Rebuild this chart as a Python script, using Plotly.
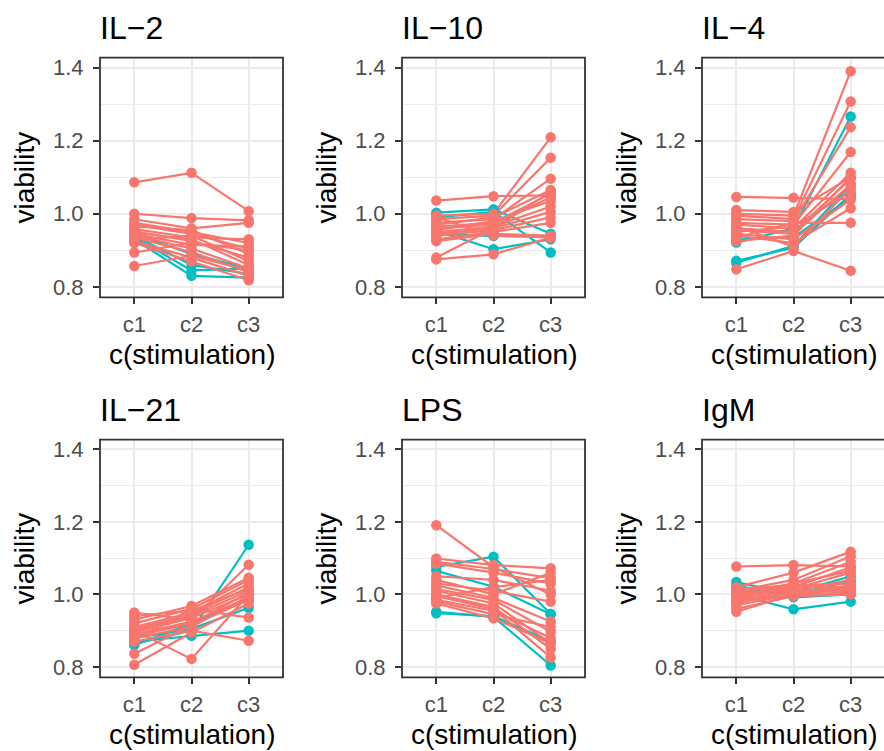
import plotly.graph_objects as go

# ---------------- data ----------------
stimulations = ["c1", "c2", "c3"]
panel_titles = ["IL\u22122", "IL\u221210", "IL\u22124", "IL\u221221", "LPS", "IgM"]
y_ticks = [0.8, 1.0, 1.2, 1.4]

il2_red = [
    [1.086, 1.112, 1.007], [1.000, 0.988, 0.982], [0.985, 0.960, 0.975],
    [0.975, 0.950, 0.920], [0.970, 0.945, 0.905], [0.965, 0.955, 0.890],
    [0.958, 0.935, 0.930], [0.952, 0.925, 0.880], [0.948, 0.930, 0.860],
    [0.945, 0.915, 0.910], [0.940, 0.905, 0.850], [0.935, 0.895, 0.840],
    [0.930, 0.940, 0.870], [0.925, 0.880, 0.830], [0.920, 0.870, 0.818],
    [0.894, 0.920, 0.900], [0.857, 0.885, 0.845],
]
il2_teal = [
    [0.945, 0.890, 0.850], [0.935, 0.845, 0.850],
    [0.930, 0.830, 0.825], [0.940, 0.860, 0.835],
]

il10_red = [
    [1.036, 1.048, 1.050], [0.995, 1.000, 1.209], [0.985, 0.995, 1.153],
    [0.975, 0.985, 1.096], [0.970, 0.990, 1.065], [0.965, 0.975, 1.055],
    [0.960, 0.970, 1.045], [0.955, 0.980, 1.035], [0.950, 0.965, 1.020],
    [0.945, 0.960, 1.005], [0.940, 0.955, 0.990], [0.930, 0.950, 0.975],
    [0.925, 0.945, 0.940], [0.880, 0.960, 1.060], [0.875, 0.889, 0.935],
    [0.990, 0.940, 0.935],
]
il10_teal = [
    [1.003, 1.012, 0.945], [0.953, 0.903, 0.930],
    [0.945, 0.939, 0.938], [0.990, 1.005, 0.894],
]

il4_red = [
    [1.046, 1.044, 1.040], [1.010, 1.005, 1.100], [1.000, 0.995, 1.390],
    [0.995, 0.985, 1.307], [0.985, 0.980, 1.237], [0.975, 0.970, 1.169],
    [0.970, 0.960, 1.112], [0.960, 0.950, 1.095], [0.955, 0.945, 1.080],
    [0.950, 0.965, 1.060], [0.945, 0.930, 1.039], [0.940, 0.920, 1.015],
    [0.935, 0.975, 0.975], [0.925, 0.940, 1.100], [0.848, 0.898, 0.844],
    [0.965, 0.910, 1.070],
]
il4_teal = [
    [0.921, 0.960, 1.266], [0.871, 0.907, 1.053],
    [0.866, 0.912, 1.080], [0.930, 0.935, 1.045],
]

il21_red = [
    [0.950, 0.930, 1.082], [0.930, 0.968, 1.046], [0.920, 0.960, 1.040],
    [0.910, 0.950, 1.030], [0.905, 0.945, 1.020], [0.900, 0.940, 1.010],
    [0.895, 0.935, 1.000], [0.890, 0.925, 0.990], [0.885, 0.920, 1.005],
    [0.880, 0.910, 0.995], [0.875, 0.960, 0.936], [0.870, 0.900, 0.872],
    [0.836, 0.915, 0.985], [0.806, 0.895, 0.975], [0.900, 0.822, 1.000],
    [0.940, 0.955, 1.015],
]
il21_teal = [
    [0.863, 0.900, 1.137], [0.870, 0.886, 0.900],
    [0.880, 0.905, 0.963], [0.860, 0.920, 0.985],
]

lps_red = [
    [1.191, 1.075, 1.000], [1.099, 1.081, 1.072], [1.090, 1.070, 1.045],
    [1.085, 1.060, 1.030], [1.040, 1.000, 1.060], [1.030, 1.010, 0.980],
    [1.025, 0.990, 0.925], [1.015, 0.985, 0.897], [1.010, 0.975, 0.865],
    [1.000, 0.965, 0.850], [0.995, 0.960, 0.826], [0.985, 0.955, 0.880],
    [0.980, 0.945, 0.910], [0.975, 0.934, 0.865], [1.050, 1.040, 1.010],
    [0.990, 1.020, 1.040],
]
lps_teal = [
    [1.076, 1.104, 0.946], [0.948, 0.940, 0.870],
    [0.952, 0.938, 0.804], [1.065, 1.021, 0.945],
]

igm_red = [
    [1.077, 1.081, 1.077], [1.020, 1.060, 1.118], [1.010, 1.040, 1.105],
    [1.005, 1.030, 1.090], [1.000, 1.020, 1.075], [0.995, 1.015, 1.060],
    [0.990, 1.010, 1.040], [0.985, 1.005, 1.025], [0.980, 1.000, 1.020],
    [0.975, 1.010, 1.010], [0.970, 1.000, 1.005], [0.960, 0.995, 1.000],
    [0.952, 1.000, 1.015], [1.015, 1.025, 1.030], [1.000, 1.020, 1.020],
    [0.990, 1.030, 1.065],
]
igm_teal = [
    [1.034, 1.000, 1.037], [1.000, 0.959, 0.980],
    [1.025, 0.992, 1.000], [1.010, 1.005, 1.050],
]

panels_red = [il2_red, il10_red, il4_red, il21_red, lps_red, igm_red]
panels_teal = [il2_teal, il10_teal, il4_teal, il21_teal, lps_teal, igm_teal]

# ---------------- styling / layout ----------------
RED = "#F8766D"
TEAL = "#00BFC4"
FONT = "Liberation Sans, Arial, sans-serif"
W, H = 884, 751

col_left = [100, 402, 702]
panel_w = 183
row_top = [56, 440]
row_bot = [297, 679]
unit_px = panel_w / 3.2
y_range = [0.771, 1.427]


def fx(px):
    return px / W


def fy(py):
    return 1 - py / H


def flat(rows):
    xs, ys = [], []
    for r in rows:
        xs += stimulations + [None]
        ys += list(r) + [None]
    return xs, ys


fig = go.Figure()
shapes = []
annotations = []

for i in range(6):
    row, col = divmod(i, 3)
    n = i + 1
    xa = "x" if n == 1 else f"x{n}"
    ya = "y" if n == 1 else f"y{n}"

    tx, ty = flat(panels_teal[i])
    rx, ry = flat(panels_red[i])
    for xs, ys, c in [(tx, ty, TEAL), (rx, ry, RED)]:
        fig.add_trace(go.Scatter(x=xs, y=ys, mode="lines", line=dict(color=c, width=2.2),
                                 xaxis=xa, yaxis=ya, showlegend=False, hoverinfo="skip"))
    for xs, ys, c in [(tx, ty, TEAL), (rx, ry, RED)]:
        fig.add_trace(go.Scatter(x=xs, y=ys, mode="markers", marker=dict(color=c, size=10.5),
                                 xaxis=xa, yaxis=ya, showlegend=False, hoverinfo="skip"))

    left = col_left[col]
    right = min(left + panel_w, W)
    xr_max = -0.6 + (right - left) / unit_px
    top, bot = row_top[row], row_bot[row]

    axis_common = dict(
        showline=False, zeroline=False, ticks="outside", ticklen=6, tickwidth=1.8,
        tickcolor="#333333", gridcolor="#EBEBEB", gridwidth=2,
        tickfont=dict(family=FONT, size=22, color="#4D4D4D"),
    )
    fig.layout[f"xaxis{'' if n == 1 else n}"] = dict(
        axis_common, domain=[fx(left), fx(right)], anchor=ya, type="category",
        categoryorder="array", categoryarray=stimulations, range=[-0.6, xr_max],
        showgrid=True, ticklabelstandoff=1,
    )
    fig.layout[f"yaxis{'' if n == 1 else n}"] = dict(
        axis_common, domain=[fy(bot), fy(top)], anchor=xa, range=y_range,
        tickmode="array", tickvals=y_ticks, ticktext=[f"{v:.1f}" for v in y_ticks],
        showgrid=True, ticklabelstandoff=5,
        minor=dict(tickmode="array", tickvals=[0.9, 1.1, 1.3], showgrid=True,
                   gridcolor="#EBEBEB", gridwidth=1, ticks=""),
    )

    shapes.append(dict(type="rect", xref="paper", yref="paper",
                       x0=fx(left), x1=fx(left + panel_w), y0=fy(bot), y1=fy(top),
                       line=dict(color="#333333", width=1.8), layer="above"))

    annotations.append(dict(text=panel_titles[i], xref="paper", yref="paper",
                            x=fx(left - 2), y=fy(top - 30), xanchor="left", yanchor="middle",
                            showarrow=False, font=dict(family=FONT, size=32, color="black")))
    annotations.append(dict(text="c(stimulation)", xref="paper", yref="paper",
                            x=fx(left + panel_w / 2), y=fy(bot + 57), xanchor="center",
                            yanchor="middle", showarrow=False,
                            font=dict(family=FONT, size=28, color="black")))
    annotations.append(dict(text="viability", xref="paper", yref="paper",
                            x=fx(left - 75), y=fy((top + bot) / 2), xanchor="center",
                            yanchor="middle", textangle=-90, showarrow=False,
                            font=dict(family=FONT, size=28, color="black")))

fig.update_layout(
    width=W, height=H, margin=dict(l=0, r=0, t=0, b=0),
    paper_bgcolor="white", plot_bgcolor="white",
    shapes=shapes, annotations=annotations, showlegend=False,
)

fig.write_html("out.html", config={"displayModeBar": False},
               post_script="document.body.style.margin='0px';document.body.style.overflow='hidden';")
